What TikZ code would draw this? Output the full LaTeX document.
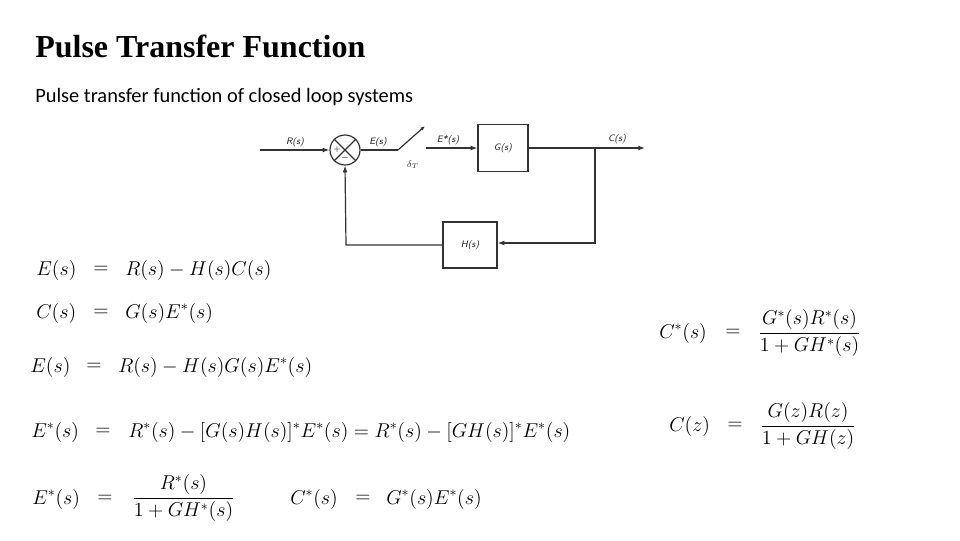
\RequirePackage{fix-cm}
\documentclass[tikz,border=0pt]{standalone}
\usepackage[no-math]{fontspec}
\usepackage{amsmath}
\newfontfamily\titlefont{Liberation Serif}
\newfontfamily\subfont{Carlito}
\usetikzlibrary{arrows.meta,calc}
\begin{document}
\begin{tikzpicture}[x=0.75pt,y=-0.75pt,
  line/.style={draw=black!80,line width=0.9pt},
  arr/.style={line,-{Latex[length=5pt,width=3.6pt]}},
  blockbox/.style={draw=black!80,line width=0.9pt,minimum width=37.5pt,minimum height=35pt,inner sep=0pt},
  lbl/.style={font=\sffamily\itshape\fontsize{7}{8}\selectfont,text=black!85,inner sep=1pt},
  eq/.style={font=\fontsize{15}{18}\selectfont,inner sep=0pt,anchor=west},
  eqc/.style={font=\fontsize{15}{18}\selectfont,inner sep=0pt,anchor=center}]
\useasboundingbox (0,0) rectangle (960,540);
\fill[white] (0,0) rectangle (960,540);
% titles
\node[anchor=base west,inner sep=0pt,font=\titlefont\bfseries\fontsize{24}{28}\selectfont] (title) at (35,57) {Pulse Transfer Function};
\node[anchor=base west,inner sep=0pt,font=\subfont\fontsize{15.3}{18}\selectfont] (sub) at (35,102) {Pulse transfer function of closed loop systems};
% block diagram
\coordinate (in) at (260,150);
\node[circle,draw=black!80,line width=0.9pt,minimum size=22.5pt,inner sep=0pt] (sum) at (345,150) {};
\draw[line] (sum.north west) -- (sum.south east);
\draw[line] (sum.north east) -- (sum.south west);
\node[font=\fontsize{6}{6}\selectfont,inner sep=0pt] (plus) at ($(sum.center)+(-8,-1)$) {$+$};
\node[font=\fontsize{7}{7}\selectfont,inner sep=0pt] (minus) at ($(sum.center)+(0,8.5)$) {$-$};
\coordinate (sw1) at (398,150);
\coordinate (sw2) at (425,126);
\coordinate (sw3) at (426,148);
\node[blockbox] (G) at (503,148) {};
\node[lbl] (Glbl) at (G.center) {G(s)};
\coordinate (out) at (645,148);
\coordinate (br) at (595,148);
\coordinate (brd) at (595,243);
\node[blockbox,minimum height=34.5pt,minimum width=40.5pt] (H) at (470,245) {};
\node[lbl] (Hlbl) at (H.center) {H(s)};
\coordinate (hl) at (346,245);
\draw[arr] (in) -- (sum);
\draw[line] (sum) -- (sw1);
\draw[line,-{Latex[length=3.5pt,width=2.8pt]}] (sw1) -- (sw2);
\draw[arr] (sw3) -- (G.west);
\draw[arr] (G.east) -- (out);
\draw[arr] (br) -- (brd) -- (H.east |- brd);
\draw[arr] (H.west) -- (hl) -- (sum.south);
\node[lbl] (Rl) at (295,142) {R(s)};
\node[lbl] (El) at (378,142) {E(s)};
\node[lbl] (Esl) at (448,140) {E*(s)};
\node[lbl] (Cl) at (617,139) {C(s)};
\node[lbl] (dl) at (413,165) {$\delta_T$};
% equations
\node[eq] (e1l) at (36,270) {$E(s)$};
\node[eqc] (e1e) at (101,270) {$=$};
\node[eq] (e1r) at (125,270) {$R(s)-H(s)C(s)$};
\node[eq] (e2l) at (36,313) {$C(s)$};
\node[eqc] (e2e) at (101,313) {$=$};
\node[eq] (e2r) at (125,313) {$G(s)E^*(s)$};
\node[eq] (e3l) at (30,367) {$E(s)$};
\node[eqc] (e3e) at (94,367) {$=$};
\node[eq] (e3r) at (118,367) {$R(s)-H(s)G(s)E^*(s)$};
\node[eq] (e4l) at (31,432) {$E^*(s)$};
\node[eqc] (e4e) at (103,432) {$=$};
\node[eq] (e4r) at (128,432) {$R^*(s)-[G(s)H(s)]^*E^*(s)=R^*(s)-[GH(s)]^*E^*(s)$};
\node[eq] (e5l) at (32,499) {$E^*(s)$};
\node[eqc] (e5e) at (105,499) {$=$};
\node[eq] (e5r) at (132,498) {$\dfrac{R^*(s)}{1+GH^*(s)}$};
\node[eq] (e6l) at (290,499) {$C^*(s)$};
\node[eqc] (e6e) at (363,499) {$=$};
\node[eq] (e6r) at (386,499) {$G^*(s)E^*(s)$};
\node[eq] (e7l) at (659,333) {$C^*(s)$};
\node[eqc] (e7e) at (733,333) {$=$};
\node[eq] (e7r) at (758,333) {$\dfrac{G^*(s)R^*(s)}{1+GH^*(s)}$};
\node[eq] (e8l) at (669,426) {$C(z)$};
\node[eqc] (e8e) at (735,426) {$=$};
\node[eq] (e8r) at (760,426) {$\dfrac{G(z)R(z)}{1+GH(z)}$};
\end{tikzpicture}
\end{document}
